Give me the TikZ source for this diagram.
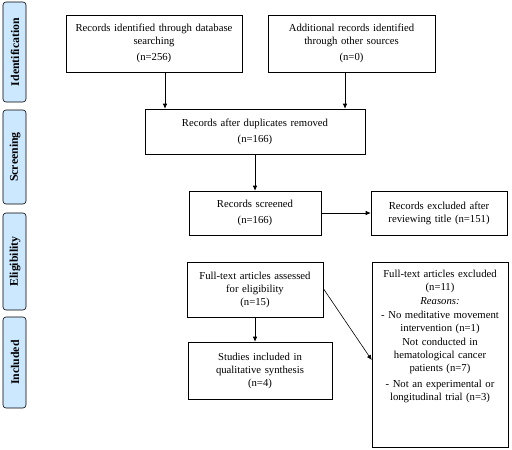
\documentclass[tikz,border=0pt]{standalone}
\usepackage{fontspec}
\setmainfont{Liberation Serif}
\usetikzlibrary{arrows.meta,positioning}
\begin{document}
\begin{tikzpicture}[x=1pt,y=-1pt,
  box/.style={draw,line width=0.6pt,align=center,inner sep=0pt,font=\fontsize{10.7}{13}\selectfont},
  plain/.style={align=center,inner sep=0pt,font=\fontsize{10.7}{13}\selectfont},
  side/.style={draw,line width=0.6pt,rounded corners=3pt,fill=sidebl},
  sidetext/.style={rotate=90,font=\bfseries\fontsize{11.8}{13}\selectfont},
  arr/.style={-{Latex[length=5pt,width=4.5pt]},line width=0.6pt}]
\definecolor{sidebl}{HTML}{CCE8FF}
\useasboundingbox (0,0) rectangle (512,450);
% side bars
\foreach \nm/\ya/\yb/\lab in {id/2/102/Identification, sc/110/204/Screening, el/213/310/Eligibility, inc/317/408/Included}{
  \draw[side] (3,\ya) rectangle (26,\yb);
  \node[sidetext] (\nm) at (15,{(\ya+\yb)/2}) {\lab};
}
% boxes
\node[box,minimum width=176pt,minimum height=57pt,text width=172pt] (b1) at (154,43.5)
  {Records identified through database\\searching\\[3pt](n=256)};
\node[box,minimum width=167pt,minimum height=57pt,text width=163pt] (b2) at (351.5,43.5)
  {Additional records identified\\through other sources\\[3pt](n=0)};
\node[box,minimum width=220pt,minimum height=45pt,text width=214pt] (b3) at (255,131.5)
  {Records after duplicates removed\\[3pt](n=166)};
\node[box,minimum width=132pt,minimum height=44pt,text width=128pt] (b4) at (255,213)
  {Records screened\\[3pt](n=166)};
\node[box,minimum width=136pt,minimum height=44pt,text width=132pt] (b5) at (439,213)
  {Records excluded after\\reviewing title (n=151)};
\node[box,minimum width=136pt,minimum height=55pt,text width=132pt] (b6) at (255,289.5)
  {Full-text articles assessed\\for eligibility\\(n=15)};
\node[box,minimum width=144pt,minimum height=57pt,text width=140pt] (b7) at (260,370.5)
  {Studies included in\\qualitative synthesis\\(n=4)};
\node[box,minimum width=136pt,minimum height=185pt] (b8) at (440,354.5) {};
\node[plain,text width=132pt,anchor=north] (b8t) at ([yshift=-8pt]b8.north)
  {Full-text articles excluded\\(n=11)\\[1pt]\textit{Reasons:}\\[1pt]- No meditative movement\\intervention (n=1)\\[1pt]Not conducted in\\hematological cancer\\patients (n=7)\\[3pt]- Not an experimental or\\longitudinal trial (n=3)};
% arrows
\draw[arr] (b1.south -| 165,0) -- (b3.north -| 165,0);
\draw[arr] (b2.south -| 345,0) -- (b3.north -| 345,0);
\draw[arr] (b3.south) -- (b4.north);
\draw[arr] (b4.east) -- (b5.west);
\draw[arr] (b6.south) -- (b7.north -| b6.south);
\draw[arr] (b6.east) ++(0,-1) -- (b8.west |- 0,360);
\end{tikzpicture}
\end{document}
